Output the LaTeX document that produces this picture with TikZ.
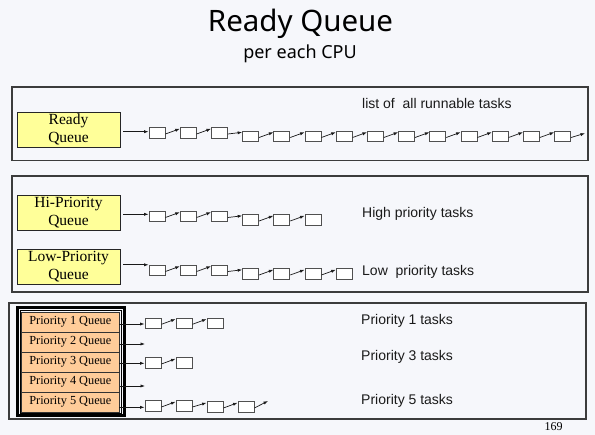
\documentclass[tikz,border=0pt]{standalone}
\usepackage{fontspec}
\setmainfont{Liberation Serif}
\newfontfamily\lsans{Liberation Sans}
\newfontfamily\tsans{Noto Sans}
\usetikzlibrary{calc,arrows.meta}
\definecolor{bgc}{HTML}{F6F7FB}
\definecolor{qyellow}{HTML}{FFFF99}
\definecolor{qorange}{HTML}{FFCC99}
\definecolor{pane}{HTML}{3C3C3C}
\definecolor{tbgray}{HTML}{505050}
\definecolor{txt}{HTML}{1A1A1A}
\tikzset{
  panel/.style={draw=pane, line width=1.2pt},
  qbox/.style={draw=black!85, fill=qyellow, line width=0.9pt, minimum width=103pt, minimum height=35pt, inner sep=0pt, align=center, font=\fontsize{15.5}{18}\selectfont},
  prow/.style={draw=black!80, fill=qorange, line width=0.8pt, minimum width=97.3pt, minimum height=20pt, inner sep=0pt, font=\fontsize{12.3}{14}\selectfont},
  tb/.style={draw=tbgray, fill=white, line width=0.9pt, minimum width=16pt, minimum height=10.5pt, inner sep=0pt},
  link/.style={-{Latex[length=4.5pt,width=3.2pt]}, line width=0.7pt, draw=black!90},
  lbl/.style={anchor=base west, inner sep=0pt, text=txt, font=\lsans\fontsize{14}{16}\selectfont},
}
\begin{document}
\begin{tikzpicture}[x=1pt,y=-1pt]
\fill[bgc] (0,0) rectangle (595,435);
\useasboundingbox (0,0) rectangle (595,435);
% titles
\node[anchor=base, inner sep=0pt, font=\tsans\fontsize{29.5}{32}\selectfont] (title) at (300.5,31.7) {Ready Queue};
\node[anchor=base, inner sep=0pt, font=\tsans\fontsize{18}{20}\selectfont] (sub) at (300,58.3) {per each CPU};
% panels
\draw[panel] (12,87) rectangle (588,160.5);
\draw[panel] (12,176) rectangle (588,292);
\draw[panel] (9,303) rectangle (586,419);
% panel 1
\node[qbox] (rq) at (68.5,129.5) {Ready\\Queue};
\node[lbl] (t1) at (362,109) {list of \ all runnable tasks};
\foreach \i in {1,...,14}{
  \pgfmathsetmacro\yy{\i<=3 ? 133 : 136.5}
  \node[tb] (a\i) at ({157+(\i-1)*31.2},\yy) {};
}
\foreach \i [evaluate=\i as \j using int(\i+1)] in {1,...,13}{
  \draw[link] ($(a\i.east)+(0,1)$) -- ($(a\j.north west)+(0,1.5)$);
}
\coordinate (aend) at (585,133.3);
\draw[link] ($(a14.east)+(0,1)$) -- (aend);
\coordinate (as) at (123,131.7);
\draw[link] (as) -- (as -| a1.west);
% panel 2
\node[qbox] (hq) at (68.5,212.5) {Hi-Priority\\Queue};
\node[qbox] (lq) at (68.5,266.5) {Low-Priority\\Queue};
\node[lbl] (t2) at (362,217.5) {High priority tasks};
\node[lbl] (t3) at (362,276) {Low \ priority tasks};
\foreach \i in {1,...,6}{
  \pgfmathsetmacro\yy{\i<=3 ? 216.5 : 220}
  \node[tb] (h\i) at ({157+(\i-1)*31.2},\yy) {};
}
\foreach \i [evaluate=\i as \j using int(\i+1)] in {1,...,5}{
  \draw[link] ($(h\i.east)+(0,1)$) -- ($(h\j.north west)+(0,1.5)$);
}
\coordinate (hs) at (123,214.3);
\draw[link] (hs) -- (hs -| h1.west);
\foreach \i in {1,...,7}{
  \pgfmathsetmacro\yy{\i<=3 ? 270.5 : 274}
  \node[tb] (l\i) at ({157+(\i-1)*31.2},\yy) {};
}
\foreach \i [evaluate=\i as \j using int(\i+1)] in {1,...,6}{
  \draw[link] ($(l\i.east)+(0,1)$) -- ($(l\j.north west)+(0,1.5)$);
}
\coordinate (ls) at (123,264.8);
\draw[link] (ls) -- (ls -| l1.west);
% panel 3
\draw[black, line width=3pt] (17.5,307.5) rectangle (124.7,415.8);
\draw[black, line width=0.8pt] (20.3,310.2) rectangle (121.8,413.3);
\foreach \k in {1,...,5}{
  \node[prow] (p\k) at (70.35,{322+(\k-1)*20}) {Priority \k\ Queue};
}
\node[lbl] (t4) at (361,325) {Priority 1 tasks};
\node[lbl] (t5) at (361,360.5) {Priority 3 tasks};
\node[lbl] (t6) at (361,405) {Priority 5 tasks};
% P1 chain
\foreach \i in {1,...,3}{ \node[tb] (q\i) at ({153+(\i-1)*31},323.3) {}; }
\foreach \i [evaluate=\i as \j using int(\i+1)] in {1,2}{
  \draw[link] ($(q\i.east)+(0,1)$) -- ($(q\j.north west)+(0,1.5)$);
}
\coordinate (p1s) at ($(p1.east)+(0,2)$);
\draw[link] (p1s) -- (p1s -| q1.west);
% P2
\coordinate (p2s) at ($(p2.east)+(0,2)$);
\coordinate (p2e) at (145,344);
\draw[link] (p2s) -- (p2e);
% P3 chain
\foreach \i in {1,2}{ \node[tb] (r\i) at ({153+(\i-1)*31},363) {}; }
\draw[link] ($(r1.east)+(0,1)$) -- ($(r2.north west)+(0,1.5)$);
\coordinate (p3s) at ($(p3.east)+(0,1.3)$);
\draw[link] (p3s) -- (p3s -| r1.west);
% P4
\coordinate (p4s) at ($(p4.east)+(0.8,4)$);
\coordinate (p4e) at (145,386);
\draw[link] (p4s) -- (p4e);
% P5 chain
\foreach \i in {1,...,4}{
  \pgfmathsetmacro\yy{\i<=2 ? 406 : 407}
  \node[tb] (s\i) at ({153+(\i-1)*31},\yy) {};
}
\foreach \i [evaluate=\i as \j using int(\i+1)] in {1,2,3}{
  \draw[link] ($(s\i.east)+(0,1)$) -- ($(s\j.north west)+(0,1.5)$);
}
\coordinate (s5e) at (268,401);
\draw[link] ($(s4.east)+(0,1)$) -- (s5e);
\coordinate (p5s) at ($(p5.east)+(0,5.3)$);
\draw[link] (p5s) -- (p5s -| s1.west);
% page number
\node[anchor=base, inner sep=0pt, font=\fontsize{12}{14}\selectfont] (pg) at (553.5,430.5) {169};
\end{tikzpicture}
\end{document}
